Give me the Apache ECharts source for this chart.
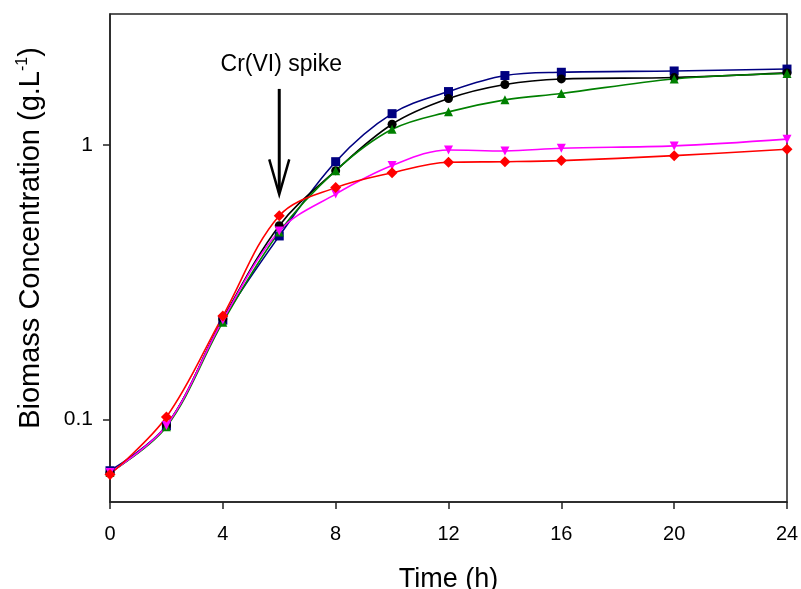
<!DOCTYPE html>
<html>
<head>
<meta charset="utf-8">
<script src="https://cdn.jsdelivr.net/npm/echarts@6/dist/echarts.min.js"></script>
<style>
  html, body { margin: 0; padding: 0; background: #fff; }
  #chart { width: 801px; height: 589px; }
</style>
</head>
<body>
<div id="chart"></div>
<script>
// time points (h)
const hours = [0, 2, 4, 6, 8, 10, 12, 14, 16, 20, 24];

// biomass concentration (g/L), one array per curve
const navySquares   = [0.065, 0.095, 0.230, 0.466, 0.869, 1.30, 1.565, 1.79, 1.84, 1.86, 1.89];
const blackCircles  = [0.064, 0.095, 0.232, 0.508, 0.806, 1.19, 1.475, 1.66, 1.74, 1.76, 1.83];
const greenTriangles = [0.064, 0.094, 0.226, 0.482, 0.806, 1.14, 1.32, 1.46, 1.54, 1.74, 1.82];
const magentaTriangles = [0.064, 0.095, 0.230, 0.486, 0.662, 0.841, 0.959, 0.951, 0.973, 0.992, 1.05];
const redDiamonds   = [0.063, 0.102, 0.238, 0.552, 0.699, 0.792, 0.865, 0.869, 0.877, 0.914, 0.964];

const xTicks = [0, 4, 8, 12, 16, 20, 24];
const yTicks = [0.1, 1];

// Cr(VI) spike annotation (data coordinates)
const spikeTime = 6;
const arrowTop = 1.6;
const arrowTip = 0.66;
const spikeLabel = "Cr(VI) spike";

const FONT = "Liberation Sans, Arial, sans-serif";

function pairs(values) {
    return hours.map((h, i) => [h, values[i]]);
}

function makeSeries(name, values, color, symbol, rotate) {
    return {
        name: name,
        type: "line",
        data: pairs(values),
        smooth: 0.35,
        symbol: symbol,
        symbolSize: symbol === "diamond" ? 11 : 9,
        symbolRotate: rotate || 0,
        lineStyle: { color: color, width: 1.6 },
        itemStyle: { color: color },
        animation: false,
    };
}

const chart = echarts.init(document.getElementById("chart"));

chart.setOption({
    backgroundColor: "#fff",
    grid: {
        left: 110,
        right: 14,
        top: 14,
        bottom: 87,
        containLabel: false,
        outerBoundsMode: "none",
        show: true,
        borderColor: "#222",
        borderWidth: 1.5,
    },
    xAxis: {
        type: "value",
        min: 0,
        max: 24,
        interval: 4,
        name: "Time (h)",
        nameLocation: "middle",
        nameGap: 64,
        nameTextStyle: { fontFamily: FONT, fontSize: 27, color: "#000" },
        axisLine: { lineStyle: { color: "#222", width: 1.5 } },
        axisTick: { length: 7, lineStyle: { color: "#222", width: 1.5 }, customValues: xTicks },
        axisLabel: { fontFamily: FONT, fontSize: 20, color: "#000", margin: 22, customValues: xTicks },
        splitLine: { show: false },
    },
    yAxis: {
        type: "log",
        logBase: 10,
        min: 0.05,
        max: 3,
        name: "Biomass Concentration (g.L{sup|-1})",
        nameLocation: "middle",
        nameGap: 64,
        nameTextStyle: {
            fontFamily: FONT,
            fontSize: 29,
            color: "#000",
            padding: [0, 0, 0, 40],
            rich: {
                sup: { fontFamily: FONT, fontSize: 16, color: "#000", verticalAlign: "top", padding: [0, 0, 15, 0] },
            },
        },
        axisLine: { lineStyle: { color: "#222", width: 1.5 } },
        axisTick: { length: 7, lineStyle: { color: "#222", width: 1.5 }, customValues: yTicks },
        axisLabel: {
            fontFamily: FONT,
            fontSize: 21,
            color: "#000",
            margin: 17,
            customValues: yTicks,
            formatter: (v) => String(v),
        },
        splitLine: { show: false },
        minorTick: { show: false },
    },
    series: [
        makeSeries("navy", navySquares, "#000080", "rect"),
        makeSeries("black", blackCircles, "#000000", "circle"),
        makeSeries("green", greenTriangles, "#008000", "triangle"),
        makeSeries("magenta", magentaTriangles, "#ff00ff", "triangle", 180),
        makeSeries("red", redDiamonds, "#ff0000", "diamond"),
    ],
});

// annotation arrow, positioned through the chart's own scales
const pTop = chart.convertToPixel({ gridIndex: 0 }, [spikeTime, arrowTop]);
const pTip = chart.convertToPixel({ gridIndex: 0 }, [spikeTime, arrowTip]);

chart.setOption({
    graphic: [
        {
            type: "line",
            shape: { x1: pTop[0], y1: pTop[1], x2: pTip[0], y2: pTip[1] - 2 },
            style: { stroke: "#000", lineWidth: 3 },
        },
        {
            type: "polyline",
            shape: {
                points: [
                    [pTip[0] - 10, pTip[1] - 35],
                    [pTip[0], pTip[1]],
                    [pTip[0] + 10, pTip[1] - 35],
                ],
            },
            style: { stroke: "#000", lineWidth: 2.5, fill: null },
        },
        {
            type: "text",
            x: pTop[0] + 2,
            y: pTop[1] - 24,
            style: {
                text: spikeLabel,
                fontFamily: FONT,
                fontSize: 23,
                fill: "#000",
                align: "center",
                verticalAlign: "middle",
            },
        },
    ],
});
</script>
</body>
</html>
